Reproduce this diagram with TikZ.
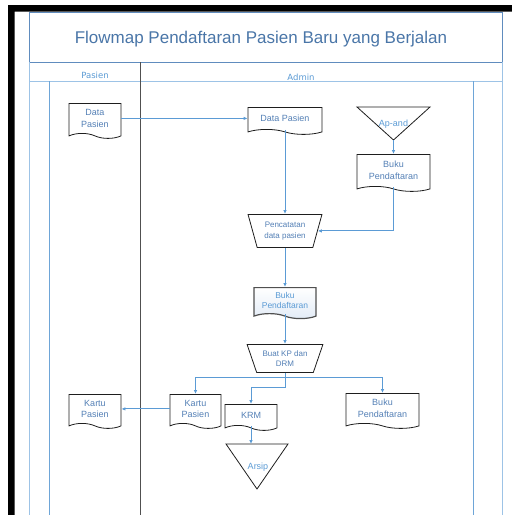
\documentclass[tikz,border=0pt]{standalone}
\usepackage{fontspec}
\setmainfont{Liberation Sans}
\newfontfamily\dejavu{DejaVu Sans}
\usetikzlibrary{shapes.geometric,shapes.symbols,arrows.meta}
\definecolor{titleblue}{RGB}{74,118,168}
\definecolor{docblue}{RGB}{84,128,182}
\definecolor{lightblue}{RGB}{91,155,213}
\definecolor{lanelight}{RGB}{157,195,230}
\definecolor{laneinner}{RGB}{110,165,215}
\definecolor{framesteel}{RGB}{96,140,190}
\definecolor{divgray}{RGB}{80,80,80}
\definecolor{edgegray}{RGB}{30,30,30}
\tikzset{
  docnode/.style={tape, tape bend top=none, tape bend bottom=out and in, tape bend height=5pt,
    draw=edgegray, line width=0.8pt, minimum width=#1, inner sep=1pt, anchor=north,
    align=center, text=docblue, font=\fontsize{9}{11.5}\selectfont},
  trapnode/.style={trapezium, shape border rotate=180, trapezium stretches=true,
    draw=edgegray, line width=0.8pt, inner sep=0pt, anchor=north,
    align=center, text=docblue, font=\fontsize{8}{10.5}\selectfont},
  trianglepath/.style={draw=edgegray, line width=0.8pt},
  tritext/.style={text=lightblue, font=\fontsize{9}{11}\selectfont},
  arr/.style={draw=lightblue, line width=0.9pt, -{Latex[length=4pt,width=3.5pt]}},
  lanelabel/.style={text=lightblue, font=\dejavu\fontsize{8.5}{10}\selectfont, anchor=base},
  blackbar/.style={fill=black, draw=none},
}
\begin{document}
\begin{tikzpicture}[x=1pt,y=-1pt]
\fill[white] (0,0) rectangle (512,515);
\useasboundingbox (0,0) rectangle (512,515);
% black borders
\path[blackbar] (8,515) -- (8,5) -- (512,5) -- (512,11.5) -- (14.5,11.5) -- (14.5,515) -- cycle;
% frame
\draw[framesteel, line width=0.9pt] (29,62) -- (29,12) -- (502.5,12) -- (502.5,62);
\draw[framesteel, line width=0.9pt] (29,62) -- (502.5,62);
\draw[lanelight, line width=1pt] (29,62) -- (29,515);
\draw[lanelight, line width=1pt] (502.5,62) -- (502.5,515);
\draw[lanelight, line width=1pt] (29,81) -- (502.5,81);
\draw[laneinner, line width=0.9pt] (49,81) -- (49,515);
\draw[laneinner, line width=0.9pt] (473,81) -- (473,515);
\draw[divgray, line width=1pt] (140,62) -- (140,515);
% title and lane labels
\node[text=titleblue, font=\fontsize{17}{20}\selectfont, anchor=base] (title) at (261,43.3) {Flowmap Pendaftaran Pasien Baru yang Berjalan};
\node[lanelabel] (lpasien) at (95,78) {Pasien};
\node[lanelabel] (ladmin) at (301,80) {Admin};
% documents
\node[docnode=52, minimum height=35] (dpL) at (95,103) {Data\\Pasien};
\node[docnode=74, minimum height=27] (dpA) at (285,107) {Data Pasien};
\node[docnode=73, minimum height=37] (buku1) at (393.5,154) {Buku\\Pendaftaran};
\node[trapnode, minimum width=74, minimum height=33, trapezium left angle=69, trapezium right angle=69] (penc) at (285,214) {Pencatatan\\data pasien};
\node[docnode=62, minimum height=31, line width=1.2pt, draw=divgray, text=lightblue, top color=white, bottom color={rgb,255:red,226;green,235;blue,246}, font=\fontsize{8.5}{10.5}\selectfont] (buku2) at (285,287) {Buku\\Pendaftaran};
\node[trapnode, minimum width=76, minimum height=28, trapezium left angle=65, trapezium right angle=65] (buat) at (285,344) {Buat KP dan\\DRM};
\node[docnode=51, minimum height=34] (kpA) at (195.5,394) {Kartu\\Pasien};
\node[docnode=52, minimum height=34] (kpL) at (95,394) {Kartu\\Pasien};
\node[docnode=52, minimum height=26] (krm) at (251,404) {KRM};
\node[docnode=73, minimum height=35] (buku3) at (382.5,393) {Buku\\Pendaftaran};
% triangles
\draw[trianglepath] (357,107) -- (430,107) -- (393.5,140) -- cycle;
\coordinate (apex) at (393.5,140);
\node[tritext] (apand) at (393.5,124) {Ap-and};
\draw[trianglepath] (226,444) -- (288,444) -- (257,489) -- cycle;
\coordinate (arsiptop) at (257,444);
\node[tritext] (arsip) at (258,467) {Arsip};
% connectors
\draw[arr] (dpL.east) -- (dpL.east -| dpA.west);
\draw[arr] (dpA.south) -- (penc.north);
\draw[arr] (apex) -- (buku1.north);
\draw[arr] (buku1.south) |- (penc.east);
\draw[arr] (penc.south) -- (buku2.north);
\draw[arr] (buku2.south) -- (buat.north);
\draw[arr] (buat.south) -- ++(0,5) -| (kpA.north);
\draw[arr] (buat.south) -- ++(0,5) -| (buku3.north);
\draw[arr] (buat.south) -- ++(0,15) -| (krm.north);
\draw[arr] (kpA.west) -- (kpA.west -| kpL.east);
\draw[arr] (krm.south) -- (krm.south |- arsiptop);
\end{tikzpicture}
\end{document}
